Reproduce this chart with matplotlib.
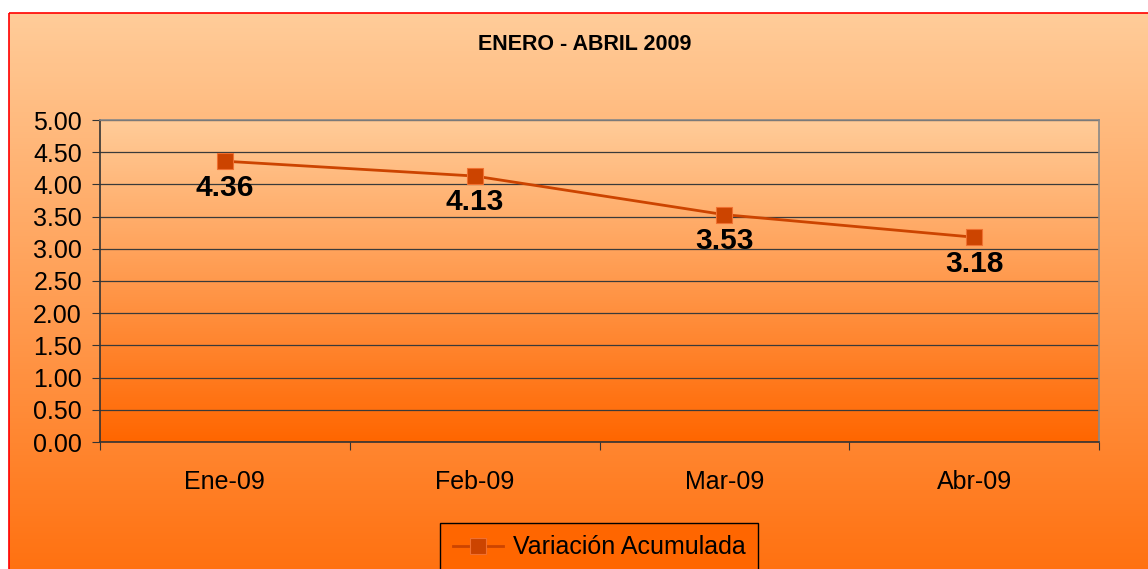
import numpy as np
import matplotlib.pyplot as plt
from matplotlib.patches import Rectangle
from matplotlib.colors import LinearSegmentedColormap

plt.rcParams['font.family'] = ['Liberation Sans', 'DejaVu Sans']

# data
meses = ['Ene-09', 'Feb-09', 'Mar-09', 'Abr-09']
variacion = [4.36, 4.13, 3.53, 3.18]
titulo = 'ENERO - ABRIL 2009'
serie = 'Variación Acumulada'

W, H = 1148, 569
fig = plt.figure(figsize=(W / 100, H / 100), dpi=100)

grad = LinearSegmentedColormap.from_list('g', ['#FFCC99', '#FF6600'])

# chart background gradient
bg = fig.add_axes([0, 0, 1, 1], zorder=-10)
bg.set_axis_off()
g = np.linspace(0, 1, 256).reshape(-1, 1)
bg.imshow(g, cmap=grad, aspect='auto', extent=[9, W + 20, 610, 13], vmin=0, vmax=1.05)
bg.add_patch(Rectangle((9, 13), W, H, fill=False, edgecolor='#FF0000', lw=1.2))
bg.set_xlim(0, W)
bg.set_ylim(H, 0)

left, right, top, bottom = 100, 1099, 120, 442
ax = fig.add_axes([left / W, 1 - bottom / H, (right - left) / W, (bottom - top) / H])
ax.set_facecolor('none')
ax.imshow(g, cmap=grad, aspect='auto', extent=[-0.5, 3.5, 0, 5], vmin=0, vmax=1, zorder=0)

x = np.arange(len(meses))
ax.plot(x, variacion, color='#CC4400', lw=2, marker='s', markersize=11,
        markerfacecolor='#CC4400', markeredgecolor='#F07030', markeredgewidth=0.8,
        zorder=5, label=serie)
for xi, v in zip(x, variacion):
    ax.annotate(f'{v:.2f}', (xi, v), xytext=(0, -19), textcoords='offset points',
                ha='center', va='center', fontsize=21.5, fontweight='bold', zorder=6)

ax.set_xlim(-0.5, 3.5)
ax.set_ylim(0, 5)
yt = np.arange(0, 5.01, 0.5)
ax.set_yticks(yt)
ax.set_yticklabels([f'{t:.2f}' for t in yt], fontsize=18)
ax.yaxis.grid(True, color='#3a3a3a', lw=0.9)
for t in ax.get_ygridlines():
    t.set_zorder(1)

ax.set_xticks(np.arange(-0.5, 3.6, 1.0))
ax.set_xticklabels([])
ax.set_xticks(x, minor=True)
ax.set_xticklabels(meses, minor=True, fontsize=18)
ax.tick_params(axis='x', which='minor', length=0, pad=20)
ax.tick_params(axis='x', which='major', length=6, color='#333333', direction='out')
ax.tick_params(axis='y', length=6, color='#333333', direction='out', pad=7)

ax.spines['left'].set_color('#333333')
ax.spines['bottom'].set_color('#333333')
ax.spines['top'].set_color('#888888')
ax.spines['right'].set_color('#888888')
for s in ax.spines.values():
    s.set_linewidth(1.2)

fig.text(585 / W, 1 - 45 / H, titulo, ha='center', va='center', fontsize=15.5, fontweight='bold')

leg = fig.legend(loc='upper center', bbox_to_anchor=(599 / W, 1 - 523 / H), fontsize=18,
                 frameon=True, fancybox=False, edgecolor='black', facecolor='#FF6600',
                 framealpha=1, handlelength=2.0, borderpad=0.5, handletextpad=0.4,
                 borderaxespad=0)
leg.get_frame().set_linewidth(1)

fig.savefig('out.png', dpi=100)
